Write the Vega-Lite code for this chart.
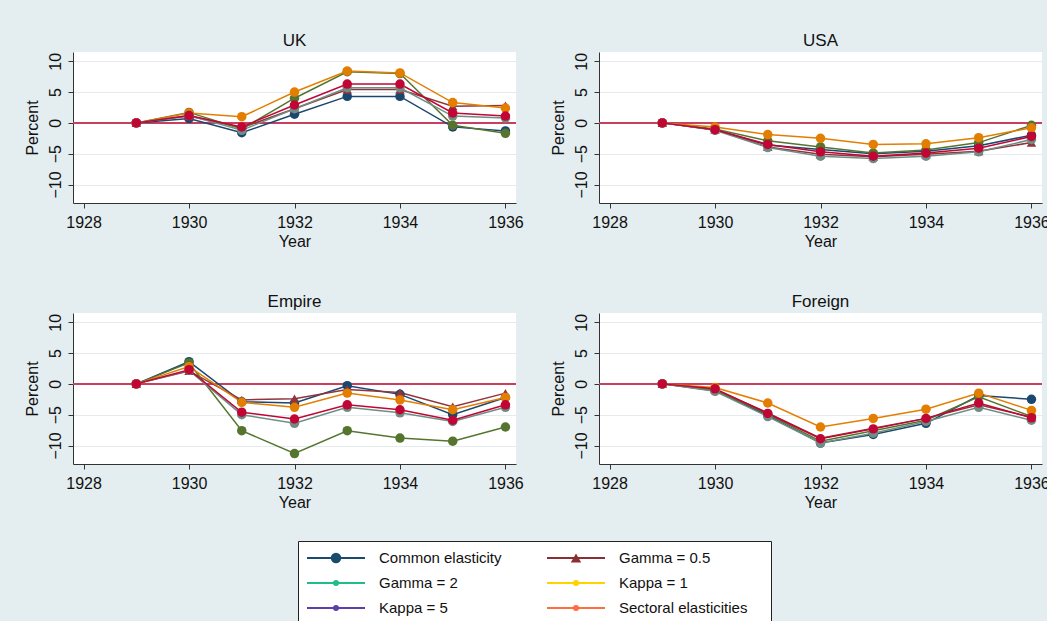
{
  "$schema": "https://vega.github.io/schema/vega-lite/v6.json",
  "background": "#e4edf0",
  "padding": 0,
  "config": {
    "view": {"stroke": null, "fill": "white"},
    "font": "Liberation Sans",
    "concat": {"spacing": 0},
    "axis": {"labelFontSize": 16, "titleFontSize": 16, "labelFont": "Liberation Sans", "titleFont": "Liberation Sans", "titleFontWeight": "normal", "labelColor": "#111111", "titleColor": "#111111", "domainColor": "#333333", "tickColor": "#333333", "tickSize": 5, "labelPadding": 2, "titlePadding": 4, "labelOverlap": false},
    "axisX": {"grid": false, "labelPadding": 6, "titlePadding": 3},
    "axisY": {"labelPadding": 5, "titlePadding": 7}
  },
  "resolve": {"scale": {"color": "independent", "shape": "independent", "size": "independent"}},
  "datasets": {
    "blank": [{}],
    "legend": [
      {"label": "Common elasticity", "col": 0, "row": 0},
      {"label": "Gamma = 0.5", "col": 1, "row": 0},
      {"label": "Gamma = 2", "col": 0, "row": 1},
      {"label": "Kappa = 1", "col": 1, "row": 1},
      {"label": "Kappa = 5", "col": 0, "row": 2},
      {"label": "Sectoral elasticities", "col": 1, "row": 2}
    ],
    "d": [
      {"region":"UK","series":"Common elasticity","year":1929,"value":0},{"region":"UK","series":"Common elasticity","year":1930,"value":0.7},{"region":"UK","series":"Common elasticity","year":1931,"value":-1.6},{"region":"UK","series":"Common elasticity","year":1932,"value":1.4},{"region":"UK","series":"Common elasticity","year":1933,"value":4.3},{"region":"UK","series":"Common elasticity","year":1934,"value":4.3},{"region":"UK","series":"Common elasticity","year":1935,"value":-0.65},{"region":"UK","series":"Common elasticity","year":1936,"value":-1.3},
      {"region":"UK","series":"Gamma = 0.5","year":1929,"value":0},{"region":"UK","series":"Gamma = 0.5","year":1930,"value":1.1},{"region":"UK","series":"Gamma = 0.5","year":1931,"value":-0.8},{"region":"UK","series":"Gamma = 0.5","year":1932,"value":2.3},{"region":"UK","series":"Gamma = 0.5","year":1933,"value":5.4},{"region":"UK","series":"Gamma = 0.5","year":1934,"value":5.4},{"region":"UK","series":"Gamma = 0.5","year":1935,"value":2.7},{"region":"UK","series":"Gamma = 0.5","year":1936,"value":2.8},
      {"region":"UK","series":"Gamma = 2","year":1929,"value":0},{"region":"UK","series":"Gamma = 2","year":1930,"value":1.7},{"region":"UK","series":"Gamma = 2","year":1931,"value":-1.0},{"region":"UK","series":"Gamma = 2","year":1932,"value":4.0},{"region":"UK","series":"Gamma = 2","year":1933,"value":8.3},{"region":"UK","series":"Gamma = 2","year":1934,"value":8.0},{"region":"UK","series":"Gamma = 2","year":1935,"value":-0.4},{"region":"UK","series":"Gamma = 2","year":1936,"value":-1.7},
      {"region":"UK","series":"Kappa = 1","year":1929,"value":0},{"region":"UK","series":"Kappa = 1","year":1930,"value":1.6},{"region":"UK","series":"Kappa = 1","year":1931,"value":1.0},{"region":"UK","series":"Kappa = 1","year":1932,"value":5.0},{"region":"UK","series":"Kappa = 1","year":1933,"value":8.4},{"region":"UK","series":"Kappa = 1","year":1934,"value":8.1},{"region":"UK","series":"Kappa = 1","year":1935,"value":3.3},{"region":"UK","series":"Kappa = 1","year":1936,"value":2.4},
      {"region":"UK","series":"Kappa = 5","year":1929,"value":0},{"region":"UK","series":"Kappa = 5","year":1930,"value":1.2},{"region":"UK","series":"Kappa = 5","year":1931,"value":-1.2},{"region":"UK","series":"Kappa = 5","year":1932,"value":2.3},{"region":"UK","series":"Kappa = 5","year":1933,"value":5.7},{"region":"UK","series":"Kappa = 5","year":1934,"value":5.7},{"region":"UK","series":"Kappa = 5","year":1935,"value":1.1},{"region":"UK","series":"Kappa = 5","year":1936,"value":0.8},
      {"region":"UK","series":"Sectoral elasticities","year":1929,"value":0},{"region":"UK","series":"Sectoral elasticities","year":1930,"value":1.2},{"region":"UK","series":"Sectoral elasticities","year":1931,"value":-0.65},{"region":"UK","series":"Sectoral elasticities","year":1932,"value":2.9},{"region":"UK","series":"Sectoral elasticities","year":1933,"value":6.3},{"region":"UK","series":"Sectoral elasticities","year":1934,"value":6.3},{"region":"UK","series":"Sectoral elasticities","year":1935,"value":1.6},{"region":"UK","series":"Sectoral elasticities","year":1936,"value":1.1},

      {"region":"USA","series":"Common elasticity","year":1929,"value":0},{"region":"USA","series":"Common elasticity","year":1930,"value":-1.1},{"region":"USA","series":"Common elasticity","year":1931,"value":-3.6},{"region":"USA","series":"Common elasticity","year":1932,"value":-4.3},{"region":"USA","series":"Common elasticity","year":1933,"value":-5.0},{"region":"USA","series":"Common elasticity","year":1934,"value":-4.6},{"region":"USA","series":"Common elasticity","year":1935,"value":-3.7},{"region":"USA","series":"Common elasticity","year":1936,"value":-2.0},
      {"region":"USA","series":"Gamma = 0.5","year":1929,"value":0},{"region":"USA","series":"Gamma = 0.5","year":1930,"value":-1.1},{"region":"USA","series":"Gamma = 0.5","year":1931,"value":-3.9},{"region":"USA","series":"Gamma = 0.5","year":1932,"value":-5.1},{"region":"USA","series":"Gamma = 0.5","year":1933,"value":-5.5},{"region":"USA","series":"Gamma = 0.5","year":1934,"value":-5.1},{"region":"USA","series":"Gamma = 0.5","year":1935,"value":-4.6},{"region":"USA","series":"Gamma = 0.5","year":1936,"value":-3.2},
      {"region":"USA","series":"Gamma = 2","year":1929,"value":0},{"region":"USA","series":"Gamma = 2","year":1930,"value":-1.0},{"region":"USA","series":"Gamma = 2","year":1931,"value":-2.9},{"region":"USA","series":"Gamma = 2","year":1932,"value":-3.9},{"region":"USA","series":"Gamma = 2","year":1933,"value":-4.9},{"region":"USA","series":"Gamma = 2","year":1934,"value":-4.4},{"region":"USA","series":"Gamma = 2","year":1935,"value":-3.2},{"region":"USA","series":"Gamma = 2","year":1936,"value":-0.4},
      {"region":"USA","series":"Kappa = 1","year":1929,"value":0},{"region":"USA","series":"Kappa = 1","year":1930,"value":-0.65},{"region":"USA","series":"Kappa = 1","year":1931,"value":-1.9},{"region":"USA","series":"Kappa = 1","year":1932,"value":-2.5},{"region":"USA","series":"Kappa = 1","year":1933,"value":-3.5},{"region":"USA","series":"Kappa = 1","year":1934,"value":-3.4},{"region":"USA","series":"Kappa = 1","year":1935,"value":-2.4},{"region":"USA","series":"Kappa = 1","year":1936,"value":-0.8},
      {"region":"USA","series":"Kappa = 5","year":1929,"value":0},{"region":"USA","series":"Kappa = 5","year":1930,"value":-1.2},{"region":"USA","series":"Kappa = 5","year":1931,"value":-4.0},{"region":"USA","series":"Kappa = 5","year":1932,"value":-5.4},{"region":"USA","series":"Kappa = 5","year":1933,"value":-5.8},{"region":"USA","series":"Kappa = 5","year":1934,"value":-5.4},{"region":"USA","series":"Kappa = 5","year":1935,"value":-4.7},{"region":"USA","series":"Kappa = 5","year":1936,"value":-2.7},
      {"region":"USA","series":"Sectoral elasticities","year":1929,"value":0},{"region":"USA","series":"Sectoral elasticities","year":1930,"value":-1.1},{"region":"USA","series":"Sectoral elasticities","year":1931,"value":-3.5},{"region":"USA","series":"Sectoral elasticities","year":1932,"value":-4.7},{"region":"USA","series":"Sectoral elasticities","year":1933,"value":-5.4},{"region":"USA","series":"Sectoral elasticities","year":1934,"value":-4.9},{"region":"USA","series":"Sectoral elasticities","year":1935,"value":-4.1},{"region":"USA","series":"Sectoral elasticities","year":1936,"value":-2.2},

      {"region":"Empire","series":"Common elasticity","year":1929,"value":0},{"region":"Empire","series":"Common elasticity","year":1930,"value":3.6},{"region":"Empire","series":"Common elasticity","year":1931,"value":-2.9},{"region":"Empire","series":"Common elasticity","year":1932,"value":-3.1},{"region":"Empire","series":"Common elasticity","year":1933,"value":-0.3},{"region":"Empire","series":"Common elasticity","year":1934,"value":-1.7},{"region":"Empire","series":"Common elasticity","year":1935,"value":-5.0},{"region":"Empire","series":"Common elasticity","year":1936,"value":-2.2},
      {"region":"Empire","series":"Gamma = 0.5","year":1929,"value":0},{"region":"Empire","series":"Gamma = 0.5","year":1930,"value":2.1},{"region":"Empire","series":"Gamma = 0.5","year":1931,"value":-2.6},{"region":"Empire","series":"Gamma = 0.5","year":1932,"value":-2.4},{"region":"Empire","series":"Gamma = 0.5","year":1933,"value":-0.9},{"region":"Empire","series":"Gamma = 0.5","year":1934,"value":-1.4},{"region":"Empire","series":"Gamma = 0.5","year":1935,"value":-3.7},{"region":"Empire","series":"Gamma = 0.5","year":1936,"value":-1.5},
      {"region":"Empire","series":"Gamma = 2","year":1929,"value":0},{"region":"Empire","series":"Gamma = 2","year":1930,"value":3.4},{"region":"Empire","series":"Gamma = 2","year":1931,"value":-7.6},{"region":"Empire","series":"Gamma = 2","year":1932,"value":-11.3},{"region":"Empire","series":"Gamma = 2","year":1933,"value":-7.6},{"region":"Empire","series":"Gamma = 2","year":1934,"value":-8.8},{"region":"Empire","series":"Gamma = 2","year":1935,"value":-9.3},{"region":"Empire","series":"Gamma = 2","year":1936,"value":-7.0},
      {"region":"Empire","series":"Kappa = 1","year":1929,"value":0},{"region":"Empire","series":"Kappa = 1","year":1930,"value":2.8},{"region":"Empire","series":"Kappa = 1","year":1931,"value":-3.0},{"region":"Empire","series":"Kappa = 1","year":1932,"value":-3.8},{"region":"Empire","series":"Kappa = 1","year":1933,"value":-1.5},{"region":"Empire","series":"Kappa = 1","year":1934,"value":-2.6},{"region":"Empire","series":"Kappa = 1","year":1935,"value":-4.2},{"region":"Empire","series":"Kappa = 1","year":1936,"value":-2.2},
      {"region":"Empire","series":"Kappa = 5","year":1929,"value":0},{"region":"Empire","series":"Kappa = 5","year":1930,"value":2.2},{"region":"Empire","series":"Kappa = 5","year":1931,"value":-5.0},{"region":"Empire","series":"Kappa = 5","year":1932,"value":-6.4},{"region":"Empire","series":"Kappa = 5","year":1933,"value":-3.8},{"region":"Empire","series":"Kappa = 5","year":1934,"value":-4.7},{"region":"Empire","series":"Kappa = 5","year":1935,"value":-6.1},{"region":"Empire","series":"Kappa = 5","year":1936,"value":-3.8},
      {"region":"Empire","series":"Sectoral elasticities","year":1929,"value":0},{"region":"Empire","series":"Sectoral elasticities","year":1930,"value":2.3},{"region":"Empire","series":"Sectoral elasticities","year":1931,"value":-4.6},{"region":"Empire","series":"Sectoral elasticities","year":1932,"value":-5.7},{"region":"Empire","series":"Sectoral elasticities","year":1933,"value":-3.4},{"region":"Empire","series":"Sectoral elasticities","year":1934,"value":-4.2},{"region":"Empire","series":"Sectoral elasticities","year":1935,"value":-5.9},{"region":"Empire","series":"Sectoral elasticities","year":1936,"value":-3.4},

      {"region":"Foreign","series":"Common elasticity","year":1929,"value":0},{"region":"Foreign","series":"Common elasticity","year":1930,"value":-1.1},{"region":"Foreign","series":"Common elasticity","year":1931,"value":-5.1},{"region":"Foreign","series":"Common elasticity","year":1932,"value":-9.6},{"region":"Foreign","series":"Common elasticity","year":1933,"value":-8.2},{"region":"Foreign","series":"Common elasticity","year":1934,"value":-6.4},{"region":"Foreign","series":"Common elasticity","year":1935,"value":-1.9},{"region":"Foreign","series":"Common elasticity","year":1936,"value":-2.5},
      {"region":"Foreign","series":"Gamma = 0.5","year":1929,"value":0},{"region":"Foreign","series":"Gamma = 0.5","year":1930,"value":-0.9},{"region":"Foreign","series":"Gamma = 0.5","year":1931,"value":-4.7},{"region":"Foreign","series":"Gamma = 0.5","year":1932,"value":-8.8},{"region":"Foreign","series":"Gamma = 0.5","year":1933,"value":-7.2},{"region":"Foreign","series":"Gamma = 0.5","year":1934,"value":-5.6},{"region":"Foreign","series":"Gamma = 0.5","year":1935,"value":-3.4},{"region":"Foreign","series":"Gamma = 0.5","year":1936,"value":-5.4},
      {"region":"Foreign","series":"Gamma = 2","year":1929,"value":0},{"region":"Foreign","series":"Gamma = 2","year":1930,"value":-1.0},{"region":"Foreign","series":"Gamma = 2","year":1931,"value":-4.9},{"region":"Foreign","series":"Gamma = 2","year":1932,"value":-9.3},{"region":"Foreign","series":"Gamma = 2","year":1933,"value":-7.6},{"region":"Foreign","series":"Gamma = 2","year":1934,"value":-5.9},{"region":"Foreign","series":"Gamma = 2","year":1935,"value":-2.1},{"region":"Foreign","series":"Gamma = 2","year":1936,"value":-5.3},
      {"region":"Foreign","series":"Kappa = 1","year":1929,"value":0},{"region":"Foreign","series":"Kappa = 1","year":1930,"value":-0.6},{"region":"Foreign","series":"Kappa = 1","year":1931,"value":-3.1},{"region":"Foreign","series":"Kappa = 1","year":1932,"value":-7.0},{"region":"Foreign","series":"Kappa = 1","year":1933,"value":-5.6},{"region":"Foreign","series":"Kappa = 1","year":1934,"value":-4.1},{"region":"Foreign","series":"Kappa = 1","year":1935,"value":-1.5},{"region":"Foreign","series":"Kappa = 1","year":1936,"value":-4.3},
      {"region":"Foreign","series":"Kappa = 5","year":1929,"value":0},{"region":"Foreign","series":"Kappa = 5","year":1930,"value":-1.2},{"region":"Foreign","series":"Kappa = 5","year":1931,"value":-5.3},{"region":"Foreign","series":"Kappa = 5","year":1932,"value":-9.6},{"region":"Foreign","series":"Kappa = 5","year":1933,"value":-8.0},{"region":"Foreign","series":"Kappa = 5","year":1934,"value":-6.1},{"region":"Foreign","series":"Kappa = 5","year":1935,"value":-3.8},{"region":"Foreign","series":"Kappa = 5","year":1936,"value":-5.9},
      {"region":"Foreign","series":"Sectoral elasticities","year":1929,"value":0},{"region":"Foreign","series":"Sectoral elasticities","year":1930,"value":-0.8},{"region":"Foreign","series":"Sectoral elasticities","year":1931,"value":-4.8},{"region":"Foreign","series":"Sectoral elasticities","year":1932,"value":-8.9},{"region":"Foreign","series":"Sectoral elasticities","year":1933,"value":-7.3},{"region":"Foreign","series":"Sectoral elasticities","year":1934,"value":-5.6},{"region":"Foreign","series":"Sectoral elasticities","year":1935,"value":-3.1},{"region":"Foreign","series":"Sectoral elasticities","year":1936,"value":-5.5}
    ]
  },
  "spacing": 0,
  "vconcat": [
    {"data": {"name": "blank"}, "width": 1047, "height": 12, "mark": {"type": "point", "opacity": 0}, "encoding": {}},
    {
      "spacing": 0,
      "hconcat": [
        {"data": {"name": "blank"}, "width": 7, "height": 520, "mark": {"type": "point", "opacity": 0}, "encoding": {}},
        {"data": {"name": "blank"}, "width": 17, "height": 520, "view": {"fill": "#e4edf0"}, "mark": {"type": "point", "opacity": 0}, "encoding": {}},
        {
          "spacing": 0,
          "vconcat": [
            {"data": {"name": "blank"}, "width": 17, "height": 20, "view": {"fill": "#e4edf0"}, "mark": {"type": "point", "opacity": 0}, "encoding": {}},
            {
              "data": {"name": "d"},
              "facet": {"field": "region", "type": "nominal", "sort": ["UK", "USA", "Empire", "Foreign"], "header": {"title": null, "labelFontSize": 17, "labelFont": "Liberation Sans", "labelColor": "#111111", "labelPadding": 2}},
              "columns": 2,
              "spacing": {"row": 44, "column": 26},
              "resolve": {"axis": {"x": "independent", "y": "independent"}},
              "spec": {
                "width": 443,
                "height": 151,
                "encoding": {
                  "y": {"field": "value", "type": "quantitative", "scale": {"domain": [-13, 11.5], "nice": false, "zero": false}, "axis": {"values": [-10, -5, 0, 5, 10], "tickCount": 5, "title": "Percent", "labelAngle": -90, "labelAlign": "center", "labelBaseline": "bottom", "labelOverlap": false, "labelBound": false, "grid": true, "gridColor": "#e3ebee", "gridWidth": 1.2}}
                },
                "layer": [
                  {"mark": {"type": "rule", "color": "#c8405f", "strokeWidth": 1.5}, "encoding": {"y": {"datum": 0, "type": "quantitative", "scale": {"domain": [-13, 11.5], "nice": false, "zero": false}, "axis": {"values": [-10, -5, 0, 5, 10], "tickCount": 5, "title": "Percent", "labelAngle": -90, "labelAlign": "center", "labelBaseline": "bottom", "labelOverlap": false, "labelBound": false, "grid": true, "gridColor": "#e3ebee", "gridWidth": 1.2}}}},
                  {
                    "mark": {"type": "line", "strokeWidth": 1.5},
                    "encoding": {
                      "x": {"field": "year", "type": "quantitative", "scale": {"domain": [1927.8, 1936.2], "nice": false, "zero": false}, "axis": {"values": [1928, 1930, 1932, 1934, 1936], "format": "d", "title": "Year", "labelFlush": false}},
                      "color": {"field": "series", "type": "nominal", "scale": {"domain": ["Common elasticity", "Gamma = 0.5", "Gamma = 2", "Kappa = 1", "Kappa = 5", "Sectoral elasticities"], "range": ["#1a476f", "#90353b", "#55752f", "#e37e00", "#6e8e84", "#c10534"]}, "legend": null}
                    }
                  },
                  {
                    "mark": {"type": "point", "filled": true, "opacity": 1, "size": 90},
                    "encoding": {
                      "x": {"field": "year", "type": "quantitative"},
                      "color": {"field": "series", "type": "nominal", "legend": null},
                      "shape": {"field": "series", "type": "nominal", "scale": {"domain": ["Common elasticity", "Gamma = 0.5", "Gamma = 2", "Kappa = 1", "Kappa = 5", "Sectoral elasticities"], "range": ["circle", "triangle-up", "circle", "circle", "circle", "circle"]}, "legend": null}
                    }
                  }
                ]
              }
            }
          ]
        }
      ]
    },
    {"data": {"name": "blank"}, "width": 1047, "height": 8, "mark": {"type": "point", "opacity": 0}, "encoding": {}},
    {
      "spacing": 0,
      "hconcat": [
        {"data": {"name": "blank"}, "width": 297, "height": 90, "mark": {"type": "point", "opacity": 0}, "encoding": {}},
        {
          "data": {"name": "legend"},
          "width": 473,
          "height": 90,
          "view": {"fill": "white", "stroke": "#222222", "strokeWidth": 1},
          "encoding": {
            "x": {"field": "col", "type": "quantitative", "scale": {"domain": [0, 1], "range": [38, 278]}, "axis": null},
            "y": {"field": "row", "type": "quantitative", "scale": {"domain": [0, 2], "range": [17, 67]}, "axis": null}
          },
          "layer": [
            {"mark": {"type": "point", "shape": "stroke", "size": 3364, "filled": false, "strokeWidth": 2, "opacity": 1},
             "encoding": {"color": {"field": "label", "type": "nominal", "scale": {"domain": ["Common elasticity", "Gamma = 0.5", "Gamma = 2", "Kappa = 1", "Kappa = 5", "Sectoral elasticities"], "range": ["#1b4a6f", "#8b2f32", "#1dbf86", "#ffd200", "#5e3fa8", "#ff6e40"]}, "legend": null}}},
            {"mark": {"type": "point", "filled": true, "opacity": 1},
             "encoding": {
               "color": {"field": "label", "type": "nominal", "legend": null},
               "shape": {"field": "label", "type": "nominal", "scale": {"domain": ["Common elasticity", "Gamma = 0.5", "Gamma = 2", "Kappa = 1", "Kappa = 5", "Sectoral elasticities"], "range": ["circle", "triangle-up", "circle", "circle", "circle", "circle"]}, "legend": null},
               "size": {"condition": {"test": "datum.label === 'Common elasticity' || datum.label === 'Gamma = 0.5'", "value": 110}, "value": 36}
             }},
            {"mark": {"type": "text", "align": "left", "baseline": "middle", "dx": 43, "fontSize": 15, "font": "Liberation Sans", "color": "#111111"},
             "encoding": {"text": {"field": "label", "type": "nominal"}}}
          ]
        },
        {"data": {"name": "blank"}, "width": 277, "height": 90, "mark": {"type": "point", "opacity": 0}, "encoding": {}}
      ]
    }
  ]
}
